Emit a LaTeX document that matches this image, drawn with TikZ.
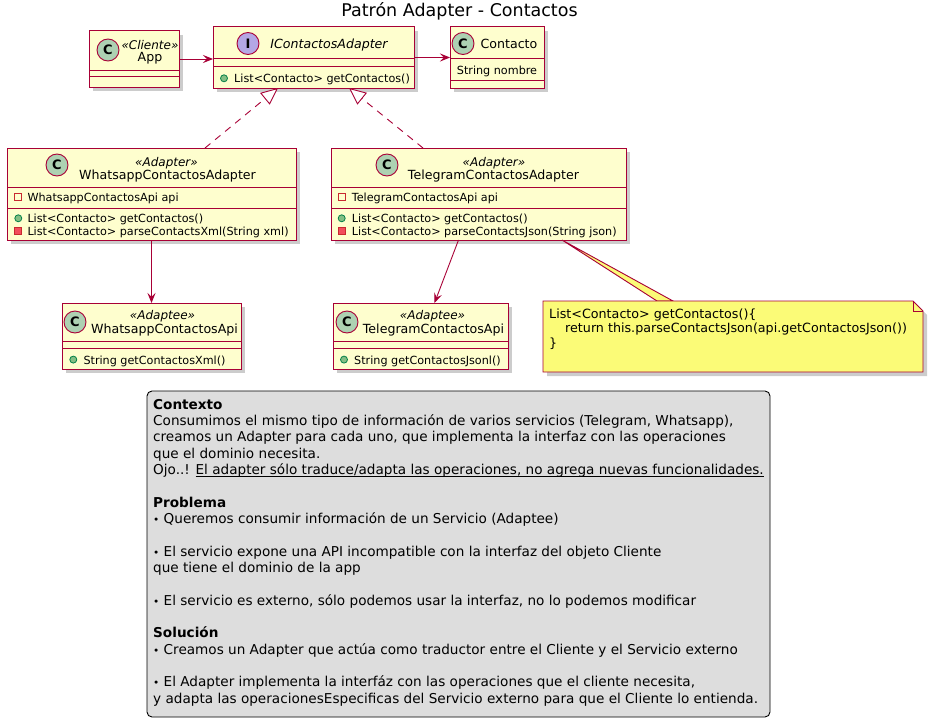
\documentclass[tikz,border=0pt]{standalone}
\usepackage{fontspec}
\setmainfont{DejaVu Sans}
\usetikzlibrary{arrows.meta,shadows,calc}
\definecolor{umlred}{HTML}{A80036}
\definecolor{umlfill}{HTML}{FEFECE}
\definecolor{circfillC}{HTML}{ADD1B2}
\definecolor{circfillI}{HTML}{B4A7E5}
\definecolor{notefill}{HTML}{FBFB77}
\definecolor{legfill}{HTML}{DDDDDD}
\definecolor{pubfill}{HTML}{84BE84}
\definecolor{pubdraw}{HTML}{038048}
\definecolor{privdraw}{HTML}{C82930}
\definecolor{privfill}{HTML}{F24D5C}
\newcommand{\mypub}[1]{\draw[pubI] (#1) circle[radius=3.5];}
\newcommand{\myprivf}[1]{\draw[privF] ($(#1)+(-3.5,-3.5)$) rectangle ++(7,7);}
\newcommand{\myprivm}[1]{\draw[privM] ($(#1)+(-3.5,-3.5)$) rectangle ++(7,7);}
\newcommand{\lb}{{\fontsize{10.5}{10}\selectfont •}}
\newcommand{\myul}[1]{\setbox0\hbox{#1}\rlap{\rule[-2.4pt]{\wd0}{0.8pt}}\box0}
\tikzset{
  cbox/.style={draw=umlred, fill=umlfill, line width=1pt, inner sep=0pt, outer sep=0pt,
    drop shadow={shadow xshift=4pt, shadow yshift=-4pt, opacity=0.2, fill=black}},
  sepline/.style={draw=umlred, line width=1pt},
  circC/.style={circle, draw=umlred, fill=circfillC, line width=0.9pt, minimum size=22pt, inner sep=0pt,
    font=\fontsize{13}{13}\selectfont\bfseries},
  circI/.style={circC, fill=circfillI},
  stereo/.style={font=\fontsize{12}{12}\selectfont\itshape, inner sep=0pt, anchor=base},
  cname/.style={font=\fontsize{12.6}{13}\selectfont, inner sep=0pt, anchor=base},
  member/.style={font=\fontsize{11.2}{13}\selectfont, inner sep=0pt, anchor=base west},
  pubI/.style={draw=pubdraw, fill=pubfill, line width=0.8pt},
  privF/.style={draw=privdraw, fill=none, line width=0.8pt},
  privM/.style={draw=privdraw, fill=privfill, line width=0.8pt},
  assoc/.style={draw=umlred, line width=0.9pt, -{Stealth[length=10pt,width=8pt,inset=4pt]}},
  realize/.style={draw=umlred, line width=0.9pt, dash pattern=on 7pt off 6pt,
    -{Triangle[length=17pt,width=15pt,fill=white]}},
  notetext/.style={font=\fontsize{12.7}{14.5}\selectfont, inner sep=0pt, anchor=base west},
}
\begin{document}
\begin{tikzpicture}[x=1pt,y=-1pt]
\useasboundingbox (0,0) rectangle (929,725);
\fill[white] (0,0) rectangle (929,725);

% title
\node[font=\fontsize{17.5}{20}\selectfont, inner sep=0pt, anchor=base] (title) at (459.5,17) {Patrón Adapter - Contactos};

% ---------- App
\node[cbox, minimum width=90pt, minimum height=56pt] (app) at (134,59) {};
\draw[sepline] (app.west |- 0,71) -- (app.east |- 0,71);
\draw[sepline] (app.west |- 0,77) -- (app.east |- 0,77);
\node[circC] (appC) at (108,50) {C};
\node[stereo] (appS) at (150,49.3) {«Cliente»};
\node[cname] (appN) at (150,61.7) {App};

% ---------- IContactosAdapter
\node[cbox, minimum width=201pt, minimum height=61pt] (icont) at (313.5,57.5) {};
\draw[sepline] (icont.west |- 0,59) -- (icont.east |- 0,59);
\draw[sepline] (icont.west |- 0,67) -- (icont.east |- 0,67);
\node[circI] (icontC) at (248,43.5) {I};
\node[cname, font=\fontsize{12.6}{13}\selectfont\itshape] (icontN) at (329,48.3) {IContactosAdapter};
\mypub{224,78.3}
\node[member] (icontM1) at (234,82.7) {List<Contacto> getContactos()};

% ---------- Contacto
\node[cbox, minimum width=94pt, minimum height=61pt] (contacto) at (497,57.5) {};
\draw[sepline] (contacto.west |- 0,59) -- (contacto.east |- 0,59);
\draw[sepline] (contacto.west |- 0,81) -- (contacto.east |- 0,81);
\node[circC] (contactoC) at (463,43.5) {C};
\node[cname] (contactoN) at (509,48.3) {Contacto};
\node[member] (contactoF1) at (456.7,74.3) {String nombre};

% ---------- WhatsappContactosAdapter
\node[cbox, minimum width=289pt, minimum height=92pt] (whats) at (151.5,194) {};
\draw[sepline] (whats.west |- 0,187) -- (whats.east |- 0,187);
\draw[sepline] (whats.west |- 0,208) -- (whats.east |- 0,208);
\node[circC] (whatsC) at (57,165) {C};
\node[stereo] (whatsS) at (166.5,166) {«Adapter»};
\node[cname] (whatsN) at (167.5,179) {WhatsappContactosAdapter};
\myprivf{18.3,197.3}
\node[member] (whatsF1) at (27.3,201.7) {WhatsappContactosApi api};
\mypub{18.3,218.3}
\node[member] (whatsM1) at (27.3,222.7) {List<Contacto> getContactos()};
\myprivm{18.3,230.6}
\node[member] (whatsM2) at (27.3,235) {List<Contacto> parseContactsXml(String xml)};

% ---------- TelegramContactosAdapter
\node[cbox, minimum width=295pt, minimum height=92pt] (tele) at (478.5,194) {};
\draw[sepline] (tele.west |- 0,187) -- (tele.east |- 0,187);
\draw[sepline] (tele.west |- 0,208) -- (tele.east |- 0,208);
\node[circC] (teleC) at (387,165) {C};
\node[stereo] (teleS) at (494,166) {«Adapter»};
\node[cname] (teleN) at (493.5,179) {TelegramContactosAdapter};
\myprivf{341.7,197.3}
\node[member] (teleF1) at (351.7,201.7) {TelegramContactosApi api};
\mypub{341.7,218.3}
\node[member] (teleM1) at (351.7,222.7) {List<Contacto> getContactos()};
\myprivm{341.7,230.6}
\node[member] (teleM2) at (351.7,235) {List<Contacto> parseContactsJson(String json)};

% ---------- WhatsappContactosApi
\node[cbox, minimum width=179pt, minimum height=66pt] (wapi) at (151.5,336) {};
\draw[sepline] (wapi.west |- 0,341) -- (wapi.east |- 0,341);
\draw[sepline] (wapi.west |- 0,348) -- (wapi.east |- 0,348);
\node[circC] (wapiC) at (75,322) {C};
\node[stereo] (wapiS) at (162.5,319) {«Adaptee»};
\node[cname] (wapiN) at (164.5,333) {WhatsappContactosApi};
\mypub{73.3,359.6}
\node[member] (wapiM1) at (83.3,364) {String getContactosXml()};

% ---------- TelegramContactosApi
\node[cbox, minimum width=175pt, minimum height=66pt] (tapi) at (420.5,336) {};
\draw[sepline] (tapi.west |- 0,341) -- (tapi.east |- 0,341);
\draw[sepline] (tapi.west |- 0,348) -- (tapi.east |- 0,348);
\node[circC] (tapiC) at (347,322) {C};
\node[stereo] (tapiS) at (432.5,319) {«Adaptee»};
\node[cname] (tapiN) at (433.5,333) {TelegramContactosApi};
\mypub{344,359.6}
\node[member] (tapiM1) at (354,364) {String getContactosJsonl()};

% ---------- connectors
\draw[assoc] (app.east) -- (app.east -| icont.west);
\draw[assoc] (icont.east) -- (icont.east -| contacto.west);
\draw[realize] ($(whats.north)+(53.5,0)$) -- ($(icont.south)+(-35.5,0)$);
\draw[realize] ($(tele.north)+(-55.5,0)$) -- ($(icont.south)+(35.5,0)$);
\draw[assoc] (whats.south) -- (wapi.north);
\draw[assoc] ($(tele.south)+(-20,0)$) -- ($(tapi.north)+(14,0)$);

% ---------- note
\node[minimum width=380pt, minimum height=71pt, inner sep=0pt, outer sep=0pt] (note) at (733,336.5) {};
\filldraw[fill=notefill, draw=umlred, line width=0.9pt] ($(tele.south east)+(-64,0)$) -- ($(note.north west)+(114,0)$) -- ($(note.north west)+(130,0)$) -- cycle;
\path[draw=umlred, fill=notefill, line width=0.9pt, drop shadow={shadow xshift=4pt, shadow yshift=-4pt, opacity=0.2, fill=black}]
  (note.north west) -- ($(note.north east)+(-10,0)$) -- ($(note.north east)+(0,10)$) -- (note.south east) -- (note.south west) -- cycle;
\draw[umlred, line width=0.9pt] ($(note.north east)+(-10,0)$) -- ($(note.north east)+(-10,10)$) -- ($(note.north east)+(0,10)$);
\node[notetext] (noteL1) at (549,318.3) {List<Contacto> getContactos()\{};
\node[notetext] (noteL2) at (565,332.8) {return this.parseContactsJson(api.getContactosJson())};
\node[notetext] (noteL3) at (549,347.3) {\}};

% ---------- legend
\node[draw=black, fill=legfill, line width=0.9pt, rounded corners=5pt, minimum width=623pt, minimum height=326pt, inner sep=0pt] (legend) at (458.5,554) {};
\node[font=\fontsize{13.6}{16.33}\selectfont, align=left, anchor=north west, inner sep=0pt] (legtext) at (153,399) {%
\textbf{Contexto}\\
Consumimos el mismo tipo de información de varios servicios (Telegram, Whatsapp),\\
creamos un Adapter para cada uno, que implementa la interfaz con las operaciones\\
que el dominio necesita.\\
Ojo..! \myul{El adapter sólo traduce/adapta las operaciones, no agrega nuevas funcionalidades.}\\[16.33pt]
\textbf{Problema}\\
\lb{} Queremos consumir información de un Servicio (Adaptee)\\[16.33pt]
\lb{} El servicio expone una API incompatible con la interfaz del objeto Cliente\\
que tiene el dominio de la app\\[16.33pt]
\lb{} El servicio es externo, sólo podemos usar la interfaz, no lo podemos modificar\\[16.33pt]
\textbf{Solución}\\
\lb{} Creamos un Adapter que actúa como traductor entre el Cliente y el Servicio externo\\[16.33pt]
\lb{} El Adapter implementa la interfáz con las operaciones que el cliente necesita,\\
y adapta las operacionesEspecificas del Servicio externo para que el Cliente lo entienda.};
\end{tikzpicture}
\end{document}
